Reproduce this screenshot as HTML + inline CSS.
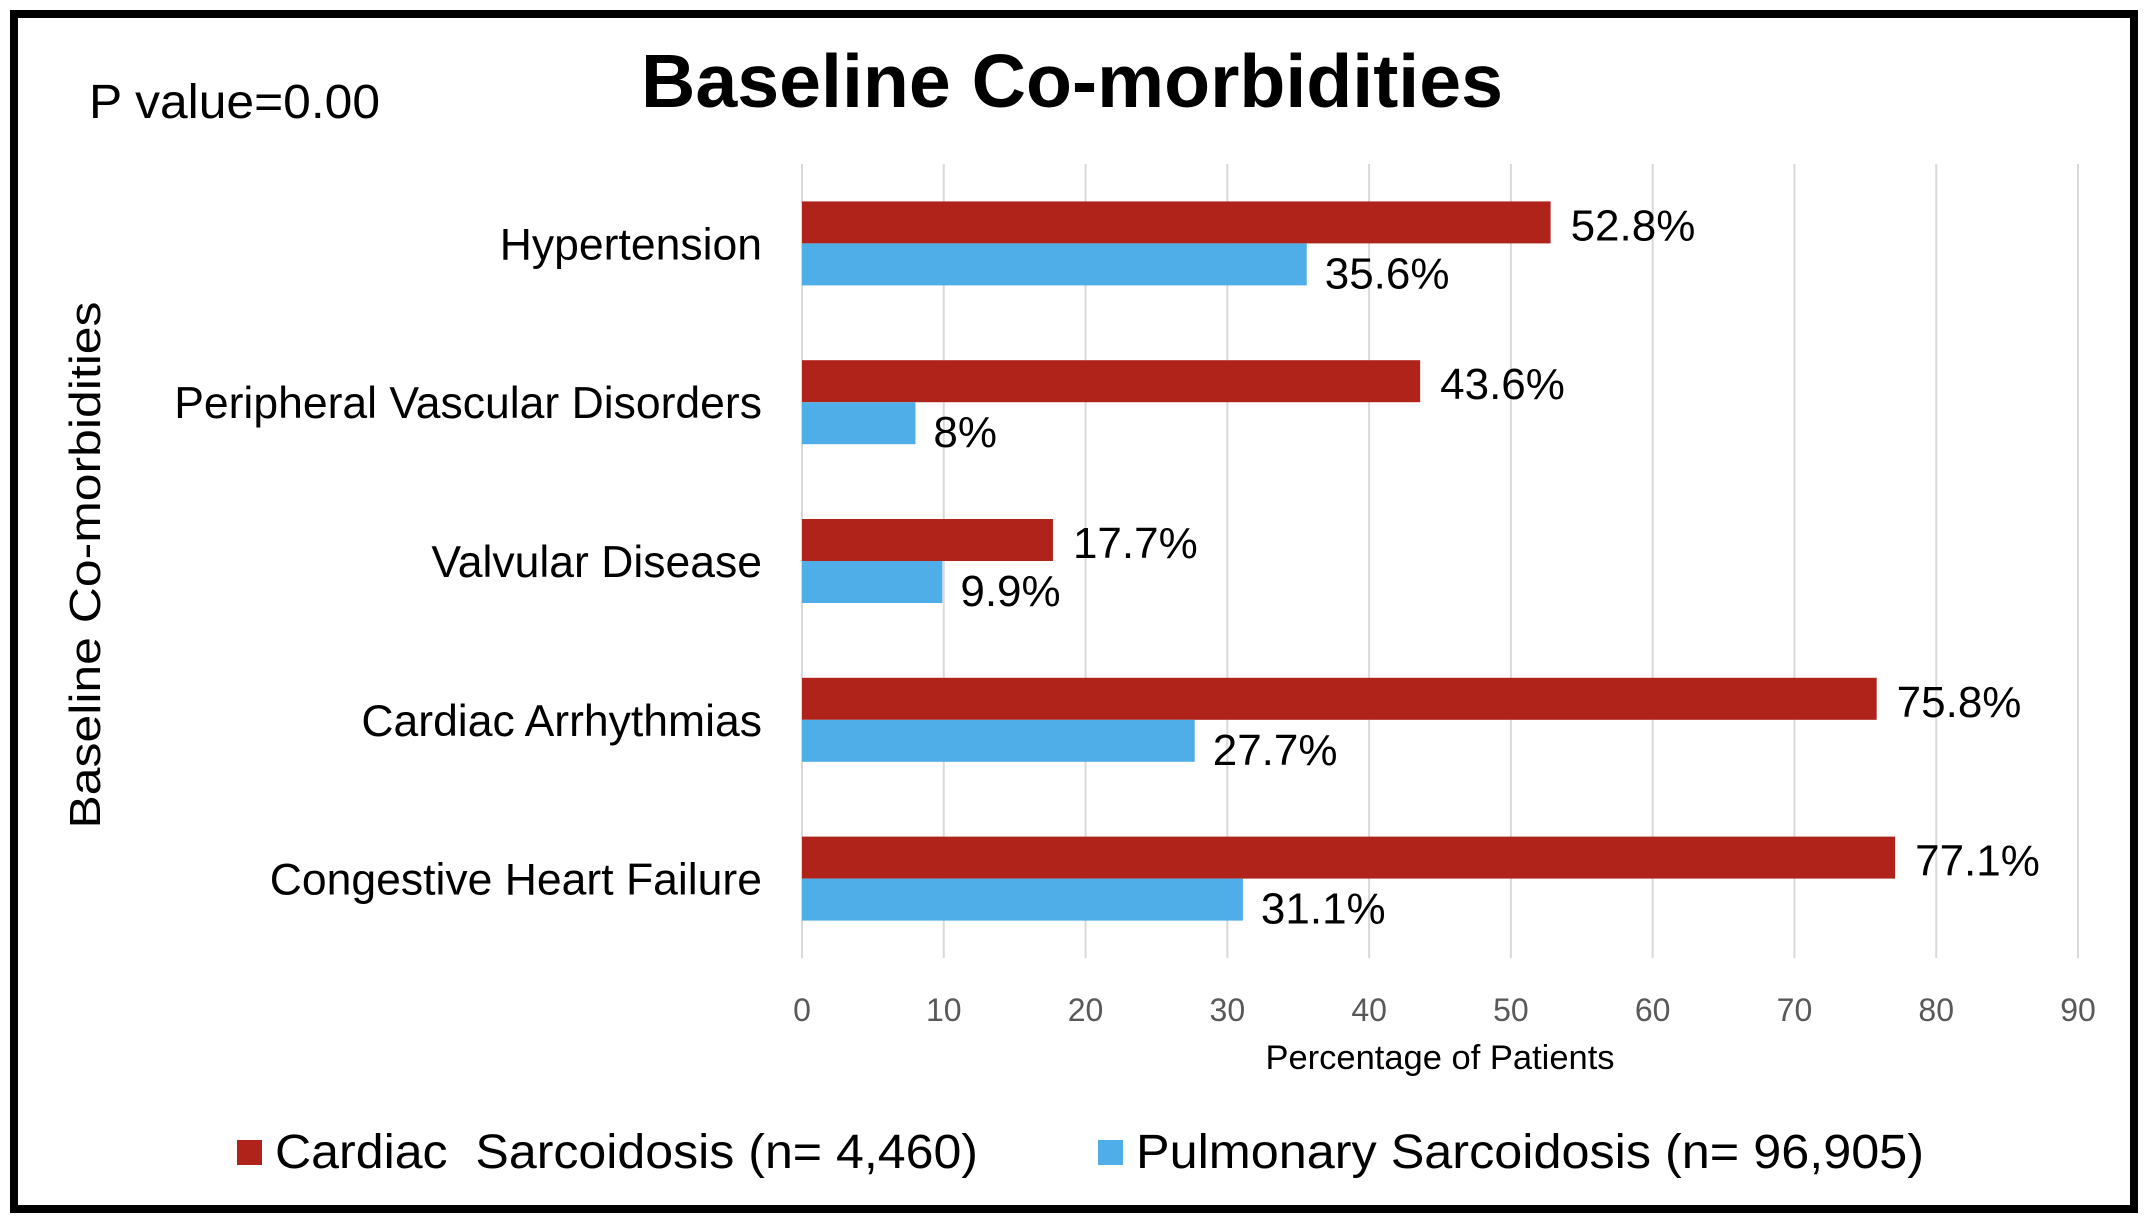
<!DOCTYPE html>
<html><head><meta charset="utf-8"><style>
html,body{margin:0;padding:0;background:#fff;}
svg{display:block;font-family:"Liberation Sans",Arial,sans-serif;}
</style></head><body>
<svg id="chart" width="2146" height="1224" viewBox="0 0 2146 1224">
<rect x="0" y="0" width="2146" height="1224" fill="#fff"/>
<rect x="14" y="14" width="2120" height="1195" fill="none" stroke="#000" stroke-width="8"/>
<text x="1072" y="107" font-size="75" font-weight="bold" text-anchor="middle" textLength="862" lengthAdjust="spacingAndGlyphs">Baseline Co-morbidities</text>
<text x="89" y="118" font-size="48" textLength="291" lengthAdjust="spacingAndGlyphs">P value=0.00</text>
<text transform="translate(100,565) rotate(-90)" font-size="44" text-anchor="middle" textLength="527" lengthAdjust="spacingAndGlyphs">Baseline Co-morbidities</text>
<g id="grid"></g>
<g id="bars"></g>
<g id="labels"></g>
<text x="1440" y="1069" font-size="34.5" text-anchor="middle">Percentage of Patients</text>
<rect x="237" y="1140" width="25" height="25" fill="#B0231B"/>
<text x="275" y="1168" font-size="48" textLength="703" lengthAdjust="spacingAndGlyphs" xml:space="preserve">Cardiac  Sarcoidosis (n= 4,460)</text>
<rect x="1098" y="1140" width="25" height="25" fill="#4FADE8"/>
<text x="1136" y="1168" font-size="48" textLength="788" lengthAdjust="spacingAndGlyphs">Pulmonary Sarcoidosis (n= 96,905)</text>
</svg>
<script>
const categories = ["Hypertension","Peripheral Vascular Disorders","Valvular Disease","Cardiac Arrhythmias","Congestive Heart Failure"];
const cardiacValues = [52.8,43.6,17.7,75.8,77.1];
const pulmonaryValues = [35.6,8,9.9,27.7,31.1];
const cardiacLabels = ["52.8%","43.6%","17.7%","75.8%","77.1%"];
const pulmonaryLabels = ["35.6%","8%","9.9%","27.7%","31.1%"];
const xTicks = [0,10,20,30,40,50,60,70,80,90];

const NS="http://www.w3.org/2000/svg";
const x0=802, x1=2078, xMax=90, plotTop=164, plotBottom=958;
const xs=v=>x0+(v/xMax)*(x1-x0);
const band=(plotBottom-plotTop)/categories.length;
const yc=i=>plotTop+band*(i+0.5);
const barH=42;
function mk(tag,attrs,parent){const e=document.createElementNS(NS,tag);for(const k in attrs)e.setAttribute(k,attrs[k]);parent.appendChild(e);return e;}
const grid=document.getElementById('grid'), bars=document.getElementById('bars'), labels=document.getElementById('labels');
xTicks.forEach(t=>{
  const l=mk('line',{x1:xs(t),x2:xs(t),y1:plotTop,y2:plotBottom,stroke:'#d9d9d9','stroke-width':2},grid);
  
  
  const tx=mk('text',{x:xs(t),y:1021,'font-size':32,fill:'#595959','text-anchor':'middle'},grid);
  tx.textContent=t;
  
  
});
categories.forEach((c,i)=>{
  const cy=yc(i);
  const cl=mk('text',{x:762,y:cy+16,'font-size':44.5,'text-anchor':'end'},labels);
  cl.textContent=c;
  
  
  const r=mk('rect',{x:x0,y:cy-barH,width:xs(cardiacValues[i])-x0,height:barH,fill:'#B0231B'},bars);
  
  
  const b=mk('rect',{x:x0,y:cy,width:xs(pulmonaryValues[i])-x0,height:barH,fill:'#4FADE8'},bars);
  
  
  const rl=mk('text',{x:xs(cardiacValues[i])+20,y:cy-barH/2+18,'font-size':44},labels);
  rl.textContent=cardiacLabels[i];
  
  
  const bl=mk('text',{x:xs(pulmonaryValues[i])+18,y:cy+barH/2+24,'font-size':44},labels);
  bl.textContent=pulmonaryLabels[i];
  
  
});
</script>
</body></html>
